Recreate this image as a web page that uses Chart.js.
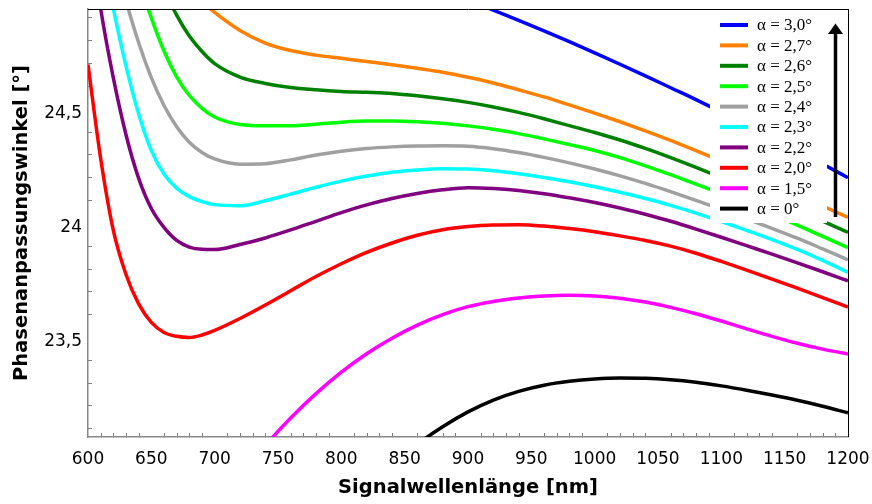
<!DOCTYPE html>
<html>
<head>
<meta charset="utf-8">
<script src="https://cdn.jsdelivr.net/npm/chart.js@4/dist/chart.umd.min.js"></script>
<style>
html,body{margin:0;padding:0;background:#fff;}
#wrap{width:872px;height:504px;}
</style>
</head>
<body>
<div id="wrap"><canvas id="c" width="872" height="504"></canvas></div>
<script>
// ---- data ----
const wavelengthNm = [600,610,620,630,640,650,660,670,680,690,700,
                      720,740,760,780,800,820,840,860,880,900,920,940,960,980,1000,1020,1040,1060,1080,1100,1120,1140,1160,1180,1200];

const alpha30 = [26.796,26.555,26.336,26.139,25.964,25.811,25.679,25.570,25.482,25.417,25.373,
                 25.311,25.281,25.254,25.224,25.189,25.149,25.110,25.066,25.022,24.976,24.932,24.887,24.841,24.794,24.745,24.695,24.644,24.592,24.540,24.485,24.430,24.374,24.316,24.258,24.198];
const alpha27 = [26.330,26.070,25.840,25.640,25.470,25.320,25.204,25.112,25.034,24.970,24.922,
                 24.843,24.788,24.755,24.735,24.721,24.707,24.693,24.677,24.660,24.638,24.613,24.583,24.552,24.517,24.481,24.443,24.403,24.361,24.317,24.271,24.224,24.175,24.126,24.074,24.024];
const alpha26 = [26.170,25.930,25.710,25.510,25.330,25.170,25.029,24.910,24.819,24.751,24.698,
                 24.639,24.611,24.593,24.583,24.576,24.572,24.567,24.557,24.544,24.528,24.508,24.484,24.456,24.426,24.396,24.363,24.326,24.286,24.243,24.198,24.152,24.105,24.057,24.008,23.958];
const alpha25 = [26.038,25.754,25.500,25.272,25.070,24.898,24.753,24.640,24.558,24.502,24.464,
                 24.431,24.425,24.425,24.432,24.441,24.446,24.446,24.443,24.436,24.425,24.410,24.391,24.368,24.343,24.317,24.286,24.250,24.211,24.170,24.128,24.084,24.038,23.990,23.941,23.891];
const alpha24 = [25.728,25.438,25.189,24.973,24.789,24.636,24.514,24.421,24.353,24.308,24.280,
                 24.257,24.259,24.276,24.297,24.314,24.326,24.333,24.337,24.338,24.336,24.325,24.308,24.287,24.263,24.236,24.206,24.173,24.137,24.099,24.059,24.018,23.976,23.933,23.886,23.838];
const alpha23 = [25.583,25.233,24.939,24.687,24.477,24.317,24.214,24.152,24.115,24.093,24.080,
                 24.075,24.097,24.126,24.156,24.183,24.205,24.222,24.232,24.237,24.236,24.228,24.215,24.199,24.180,24.158,24.134,24.107,24.077,24.043,24.006,23.967,23.927,23.884,23.836,23.783];
const alpha22 = [25.327,24.938,24.635,24.386,24.195,24.063,23.980,23.923,23.894,23.884,23.883,
                 23.905,23.934,23.969,24.007,24.045,24.079,24.107,24.129,24.145,24.154,24.151,24.142,24.128,24.110,24.089,24.065,24.038,24.007,23.973,23.937,23.900,23.863,23.825,23.786,23.746];
const alpha20 = [24.694,24.282,23.967,23.774,23.645,23.564,23.520,23.503,23.498,23.509,23.529,
                 23.581,23.640,23.703,23.765,23.821,23.871,23.912,23.946,23.970,23.984,23.991,23.992,23.986,23.975,23.961,23.943,23.923,23.898,23.867,23.831,23.793,23.754,23.714,23.673,23.631];
const alpha15 = [null,null,null,null,null,null,null,null,null,null,null,
                 22.892,23.025,23.145,23.252,23.346,23.427,23.495,23.552,23.598,23.633,23.656,23.671,23.680,23.683,23.680,23.670,23.653,23.630,23.602,23.570,23.536,23.503,23.473,23.447,23.426];
const alpha0  = [null,null,null,null,null,null,null,null,null,null,null,
                 null,null,null,null,null,22.854,22.946,23.031,23.107,23.172,23.224,23.262,23.289,23.306,23.316,23.320,23.319,23.313,23.302,23.286,23.267,23.246,23.223,23.197,23.168];

const seriesLabels = ['α = 3,0°','α = 2,7°','α = 2,6°','α = 2,5°','α = 2,4°','α = 2,3°','α = 2,2°','α = 2,0°','α = 1,5°','α = 0°'];
const seriesValues = [alpha30, alpha27, alpha26, alpha25, alpha24, alpha23, alpha22, alpha20, alpha15, alpha0];

const xMin = 600, xMax = 1200, xMajorStep = 50, xMinorStep = 10;
const yMin = 23.062, yMax = 24.937, yMajorStep = 0.5, yMinorStep = 0.1;
const xTitle = 'Signalwellenlänge [nm]';
const yTitle = 'Phasenanpassungswinkel [°]';

// ---- styles ----
const seriesColors = ['#0000ff','#ff8000','#008000','#00ff00','#a0a0a0','#00ffff','#800080','#ff0000','#ff00ff','#000000'];

const datasets = seriesValues.map((vals, i) => ({
  label: seriesLabels[i],
  data: wavelengthNm.map((x, j) => ({x: x, y: vals[j]})).filter(p => p.y !== null),
  borderColor: seriesColors[i],
  backgroundColor: seriesColors[i],
  borderWidth: 3.5,
  pointRadius: 0,
  fill: false,
  cubicInterpolationMode: 'monotone',
  clip: 0
}));

function noPad(s) { s.paddingLeft = 0; s.paddingRight = 0; s.paddingTop = 0; s.paddingBottom = 0; }

const overlay = {
  id: 'overlay',
  beforeDatasetsDraw(chart) {
    const {ctx, chartArea: a, scales: {x, y}} = chart;
    ctx.save();
    ctx.strokeStyle = '#808080';
    ctx.lineWidth = 1;
    ctx.beginPath();
    for (let v = xMin + xMinorStep; v < xMax; v += xMinorStep) {
      if (v % xMajorStep === 0) continue;
      const px = Math.round(x.getPixelForValue(v)) + 0.5;
      ctx.moveTo(px, a.bottom);
      ctx.lineTo(px, a.bottom - 4);
    }
    const k0 = Math.ceil(yMin / yMinorStep), k1 = Math.floor(yMax / yMinorStep);
    for (let k = k0; k <= k1; k++) {
      if (k % Math.round(yMajorStep / yMinorStep) === 0) continue;
      const py = Math.round(y.getPixelForValue(k * yMinorStep)) + 0.5;
      ctx.moveTo(a.left, py);
      ctx.lineTo(a.left + 4, py);
    }
    ctx.stroke();
    ctx.restore();
  },
  afterDatasetsDraw(chart) {
    const {ctx, chartArea: a} = chart;
    ctx.save();
    // top / right frame
    ctx.strokeStyle = '#000';
    ctx.lineWidth = 1;
    ctx.beginPath();
    ctx.moveTo(a.left, a.top + 0.5); ctx.lineTo(a.right + 1, a.top + 0.5);
    ctx.moveTo(a.right + 0.5, a.top); ctx.lineTo(a.right + 0.5, a.bottom);
    ctx.stroke();
    // legend box
    const bx0 = a.right - 138, bx1 = a.right - 21, by0 = a.top + 1, by1 = a.top + 214;
    ctx.fillStyle = '#fff';
    ctx.fillRect(bx0, by0, bx1 - bx0, by1 - by0);
    ctx.font = '17px "Liberation Serif", "Times New Roman", serif';
    ctx.textBaseline = 'middle';
    ctx.textAlign = 'left';
    chart.data.datasets.forEach((ds, i) => {
      const yy = a.top + 16 + i * 20.4;
      ctx.strokeStyle = ds.borderColor;
      ctx.lineWidth = 4;
      ctx.beginPath();
      ctx.moveTo(a.right - 128, yy); ctx.lineTo(a.right - 100, yy);
      ctx.stroke();
      ctx.fillStyle = '#000';
      ctx.fillText(ds.label, a.right - 91, yy + 1);
    });
    // arrow
    const ax = a.right - 12.5;
    ctx.strokeStyle = '#000';
    ctx.lineWidth = 3.5;
    ctx.beginPath();
    ctx.moveTo(ax, a.top + 208); ctx.lineTo(ax, a.top + 23);
    ctx.stroke();
    ctx.fillStyle = '#000';
    ctx.beginPath();
    ctx.moveTo(ax - 7.5, a.top + 25); ctx.lineTo(ax + 7.5, a.top + 25); ctx.lineTo(ax, a.top + 14.5); ctx.closePath();
    ctx.fill();
    ctx.restore();
  }
};

Chart.defaults.font.family = '"DejaVu Sans", Verdana, sans-serif';
Chart.defaults.color = '#000';

new Chart(document.getElementById('c'), {
  type: 'line',
  data: { datasets: datasets },
  plugins: [overlay],
  options: {
    responsive: false,
    animation: false,
    layout: { padding: { top: 9, right: 24, bottom: 0, left: 0 } },
    plugins: { legend: { display: false }, tooltip: { enabled: false } },
    scales: {
      x: {
        type: 'linear',
        min: xMin, max: xMax,
        afterFit(s) { s.height = 67; noPad(s); },
        grid: { display: false, drawTicks: false },
        border: { display: true, color: '#888', width: 1.5 },
        ticks: { stepSize: xMajorStep, padding: 12, maxRotation: 0, autoSkip: false,
                 font: { size: 17 }, color: '#000', callback: v => String(v) },
        title: { display: true, text: xTitle, color: '#000',
                 font: { size: 19.5, weight: 'bold' }, padding: { top: 0, bottom: 4 } }
      },
      y: {
        type: 'linear',
        min: yMin, max: yMax,
        afterFit(s) { s.width = 88; noPad(s); },
        grid: { display: false, drawTicks: false },
        border: { display: true, color: '#888', width: 1.5 },
        ticks: { stepSize: yMajorStep, includeBounds: false, padding: 6, labelOffset: 5,
                 font: { size: 17 }, color: '#000',
                 callback: v => String(Math.round(v * 10) / 10).replace('.', ',') },
        title: { display: true, text: yTitle, color: '#000',
                 font: { size: 19.5, weight: 'bold' }, padding: { top: 10, bottom: 0 } }
      }
    }
  }
});
</script>
</body>
</html>
